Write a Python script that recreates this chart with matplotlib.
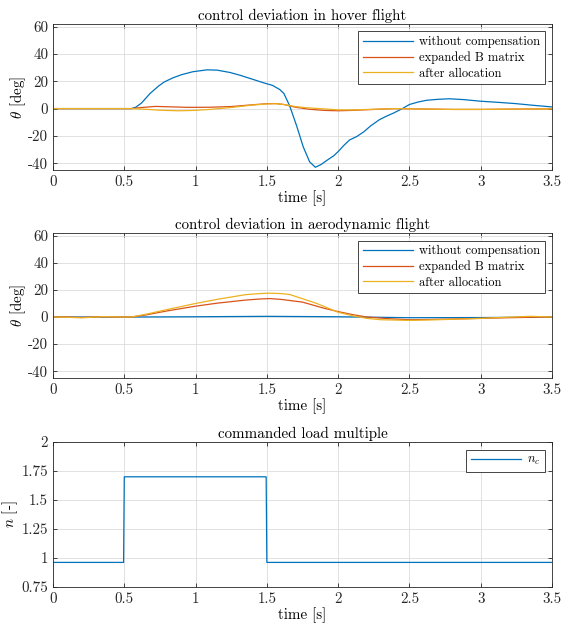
import numpy as np
import matplotlib.pyplot as plt

plt.rcParams['font.family'] = ['cmr10', 'DejaVu Serif']
plt.rcParams['mathtext.fontset'] = 'cm'
plt.rcParams['axes.unicode_minus'] = False
plt.rcParams['axes.formatter.use_mathtext'] = False

blue = '#0072BD'
red = '#D95319'
yellow = '#EDB120'

# hover flight
t_hov_wo = [0, 0.55, 0.58, 0.62, 0.68, 0.74, 0.78, 0.84, 0.9, 0.98, 1.08, 1.15, 1.24, 1.31, 1.4, 1.48,
            1.54, 1.59, 1.62, 1.66, 1.71, 1.755, 1.8, 1.84, 1.88, 1.92, 1.97, 2.0, 2.04, 2.08, 2.13, 2.18,
            2.23, 2.29, 2.34, 2.39, 2.45, 2.5, 2.56, 2.62, 2.7, 2.78, 2.88, 3.0, 3.12, 3.24, 3.37, 3.5]
th_hov_wo = [0, 0, 1.0, 4.0, 11.0, 16.5, 19.5, 22.5, 24.8, 27.0, 28.4, 28.2, 26.5, 24.5, 21.5, 18.8,
             17.0, 14.0, 11.0, 2.0, -13.0, -28.0, -39.0, -43.0, -41.0, -38.0, -34.5, -31.5, -27.0, -23.0,
             -20.5, -17.0, -12.5, -8.1, -5.5, -3.2, 0, 3.0, 4.8, 6.1, 6.8, 7.2, 6.6, 5.4, 4.6, 3.7, 2.4, 1.2]
t_hov_b = [0, 0.55, 0.62, 0.72, 0.82, 0.95, 1.1, 1.25, 1.4, 1.5, 1.56, 1.62, 1.7, 1.8, 1.9, 2.0, 2.1, 2.25,
           2.4, 2.6, 2.8, 3.0, 3.2, 3.5]
th_hov_b = [0, 0, 0.8, 1.6, 1.3, 0.9, 1.0, 1.5, 2.8, 3.6, 3.7, 3.0, 1.0, -0.5, -1.3, -1.6, -1.3, -0.6,
            0, -0.3, -0.6, -0.6, -0.4, -0.2]
t_hov_a = [0, 0.55, 0.65, 0.75, 0.88, 1.0, 1.1, 1.25, 1.4, 1.5, 1.56, 1.62, 1.7, 1.78, 1.9, 2.0, 2.1, 2.25,
           2.4, 2.6, 2.8, 3.0, 3.2, 3.5]
th_hov_a = [0, 0, -0.5, -1.2, -1.6, -1.3, -0.6, 0.8, 2.6, 3.4, 3.6, 3.0, 1.5, 0.6, -0.2, -0.9, -1.0, -0.5,
            0, -0.3, -0.6, -0.6, -0.4, -0.2]

# aerodynamic flight
t_aero_wo = [0, 0.5, 1.0, 1.5, 2.0, 2.5, 3.0, 3.5]
th_aero_wo = [0, 0, 0.2, 0.5, 0.2, -0.5, -0.4, 0]
t_aero_b = [0, 0.1, 0.2, 0.35, 0.5, 0.55, 0.65, 0.8, 1.0, 1.15, 1.35, 1.45, 1.52, 1.6, 1.75, 1.9, 2.0, 2.1,
            2.2, 2.35, 2.5, 2.65, 2.8, 3.0, 3.2, 3.35, 3.5]
th_aero_b = [0, 0, -0.3, 0.2, 0, 0, 1.5, 4.5, 8.0, 10.2, 12.5, 13.3, 13.6, 13.0, 11.0, 6.5, 4.0, 1.8,
             0, -1.2, -2.0, -1.8, -1.5, -1.0, -0.5, -0.2, 0]
t_aero_a = [0, 0.1, 0.2, 0.35, 0.5, 0.55, 0.65, 0.8, 1.0, 1.15, 1.35, 1.45, 1.52, 1.6, 1.66, 1.75, 1.85, 2.0,
            2.1, 2.2, 2.3, 2.5, 2.7, 2.85, 3.0, 3.15, 3.35, 3.5]
th_aero_a = [0, -0.2, -0.6, 0.3, 0, 0, 2.0, 5.5, 10.0, 13.0, 16.5, 17.3, 17.6, 17.3, 16.6, 13.5, 10.0, 3.5,
             1.0, -1.0, -2.0, -2.5, -2.0, -1.5, -1.0, -0.3, 0.5, 0]

# commanded load multiple
t_n = [0, 0.495, 0.5, 1.495, 1.5, 3.5]
n_c = [0.962, 0.962, 1.7, 1.7, 0.962, 0.962]

fig = plt.figure(figsize=(5.64, 6.24), dpi=100)
left, width = 53 / 564, 499 / 564
ax1 = fig.add_axes([left, 1 - 170 / 624, width, 146 / 624])
ax2 = fig.add_axes([left, 1 - 378 / 624, width, 145 / 624])
ax3 = fig.add_axes([left, 1 - 587 / 624, width, 145 / 624])

lw = 0.9
fs = 10.8

def style(ax):
    ax.set_xlim(0, 3.5)
    ax.set_xticks([0, 0.5, 1, 1.5, 2, 2.5, 3, 3.5])
    ax.set_xticklabels(['0', '0.5', '1', '1.5', '2', '2.5', '3', '3.5'])
    ax.grid(True, color='#dcdcdc', linewidth=0.6)
    ax.set_axisbelow(True)
    ax.tick_params(direction='in', top=True, right=True, labelsize=fs, colors='#262626', length=3, width=0.6)
    for s in ax.spines.values():
        s.set_color('#262626')
        s.set_linewidth(0.6)
    ax.set_xlabel('time [s]', fontsize=fs, labelpad=1)

labels = ['without compensation', 'expanded B matrix', 'after allocation']
for ax, title, data in [
    (ax1, 'control deviation in hover flight',
     [(t_hov_wo, th_hov_wo, blue), (t_hov_b, th_hov_b, red), (t_hov_a, th_hov_a, yellow)]),
    (ax2, 'control deviation in aerodynamic flight',
     [(t_aero_wo, th_aero_wo, blue), (t_aero_b, th_aero_b, red), (t_aero_a, th_aero_a, yellow)]),
]:
    for (t, y, c), lab in zip(data, labels):
        ax.plot(t, y, color=c, linewidth=lw, label=lab)
    style(ax)
    ax.set_ylim(-45, 62)
    ax.set_yticks([-40, -20, 0, 20, 40, 60])
    ax.set_ylabel(r'$\theta$ [deg]', fontsize=fs, labelpad=0)
    ax.set_title(title, fontsize=fs, pad=3)
    leg = ax.legend(loc='upper right', fontsize=9, fancybox=False, framealpha=1,
                    edgecolor='#262626', borderpad=0.35, labelspacing=0.28, handlelength=4.0,
                    handletextpad=0.5, borderaxespad=0.6)
    leg.get_frame().set_linewidth(0.6)

ax3.plot(t_n, n_c, color=blue, linewidth=lw, label=r'$n_c$')
style(ax3)
ax3.set_ylim(0.75, 2)
ax3.set_yticks([0.75, 1, 1.25, 1.5, 1.75, 2])
ax3.set_yticklabels(['0.75', '1', '1.25', '1.5', '1.75', '2'])
ax3.set_ylabel(r'$n$ [-]', fontsize=fs, labelpad=1)
ax3.set_title('commanded load multiple', fontsize=fs, pad=3)
leg = ax3.legend(loc='upper right', fontsize=9, fancybox=False, framealpha=1,
                 edgecolor='#262626', borderpad=0.35, handlelength=4.0, handletextpad=0.5,
                 borderaxespad=0.6)
leg.get_frame().set_linewidth(0.6)

fig.savefig('out.png', dpi=100)
